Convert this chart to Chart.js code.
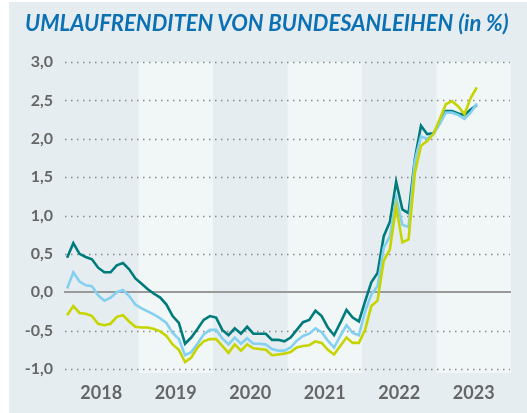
<!DOCTYPE html>
<html lang="de">
<head>
<meta charset="utf-8">
<script src="https://cdn.jsdelivr.net/npm/chart.js@4.4.1/dist/chart.umd.min.js"></script>
<style>
  html, body { margin: 0; background: #fff; }
  #wrap { position: absolute; left: 9px; top: 2px; width: 518px; height: 411px; background: #e5edf0; }
  #titel {
    position: absolute; left: 16px; top: 8px; margin: 0;
    font: italic bold 22px/26px Lato, sans-serif; color: #0b70b4; white-space: nowrap;
  }
</style>
</head>
<body>
<div id="wrap">
  <h1 id="titel">UMLAUFRENDITEN VON BUNDESANLEIHEN (in %)</h1>
  <canvas id="renditeChart"></canvas>
</div>
<script>
// Monatswerte Jan 2018 – Jul 2023, in %
const jahre = ['2018', '2019', '2020', '2021', '2022', '2023'];

const renditeLang = [
  0.45, 0.64, 0.50, 0.46, 0.43, 0.32, 0.26, 0.26, 0.35, 0.38, 0.30, 0.18,
  0.11, 0.04, -0.02, -0.07, -0.16, -0.31, -0.40, -0.67, -0.59, -0.48, -0.36, -0.31,
  -0.33, -0.49, -0.56, -0.47, -0.54, -0.45, -0.54, -0.54, -0.54, -0.62, -0.62, -0.64,
  -0.59, -0.49, -0.39, -0.36, -0.24, -0.31, -0.46, -0.56, -0.40, -0.23, -0.33, -0.38,
  -0.12, 0.13, 0.25, 0.73, 0.92, 1.44, 1.08, 1.03, 1.73, 2.17, 2.06, 2.07,
  2.20, 2.36, 2.36, 2.33, 2.31, 2.38, 2.44
];
const renditeMittel = [
  0.05, 0.26, 0.14, 0.09, 0.08, -0.04, -0.11, -0.07, 0.00, 0.03, -0.05, -0.16,
  -0.21, -0.25, -0.29, -0.34, -0.40, -0.53, -0.61, -0.82, -0.78, -0.67, -0.55, -0.49,
  -0.49, -0.60, -0.68, -0.59, -0.67, -0.60, -0.67, -0.67, -0.68, -0.74, -0.76, -0.76,
  -0.72, -0.63, -0.57, -0.54, -0.47, -0.52, -0.63, -0.72, -0.57, -0.43, -0.53, -0.56,
  -0.25, -0.03, 0.08, 0.58, 0.73, 1.23, 0.88, 0.85, 1.71, 2.03, 2.00, 2.06,
  2.19, 2.34, 2.34, 2.31, 2.26, 2.34, 2.46
];
const renditeKurz = [
  -0.30, -0.18, -0.27, -0.28, -0.31, -0.41, -0.43, -0.41, -0.32, -0.30, -0.38, -0.45,
  -0.46, -0.46, -0.48, -0.51, -0.57, -0.68, -0.75, -0.91, -0.85, -0.72, -0.64, -0.61,
  -0.61, -0.70, -0.79, -0.68, -0.76, -0.68, -0.73, -0.74, -0.75, -0.82, -0.81, -0.80,
  -0.78, -0.72, -0.70, -0.69, -0.64, -0.66, -0.75, -0.81, -0.70, -0.59, -0.66, -0.66,
  -0.49, -0.18, -0.11, 0.41, 0.56, 1.12, 0.65, 0.69, 1.55, 1.91, 1.97, 2.06,
  2.25, 2.45, 2.49, 2.42, 2.32, 2.53, 2.67
];
const yTicks = [-1.0, -0.5, 0.0, 0.5, 1.0, 1.5, 2.0, 2.5, 3.0];

// Monat i liegt in der Mitte seines Monatsintervalls
const punkte = werte => werte.map((v, i) => ({ x: i + 0.5, y: v }));

// helle Hintergrundstreifen für jedes zweite Jahr, dazu Gitterlinien
const jahresStreifen = {
  id: 'jahresStreifen',
  beforeDatasetsDraw(chart) {
    const { ctx, chartArea: a, scales: { x, y } } = chart;
    ctx.save();
    ctx.fillStyle = '#f1f6f7';
    jahre.forEach((j, i) => {
      if (i % 2 === 0) return;
      const x0 = x.getPixelForValue(i * 12);
      const x1 = x.getPixelForValue(i * 12 + 12);
      ctx.fillRect(x0, a.top, x1 - x0, a.bottom - a.top);
    });
    ctx.strokeStyle = '#8a8a8a';
    ctx.lineWidth = 1.5;
    ctx.setLineDash([1.5, 4.5]);
    yTicks.forEach(v => {
      if (v === 0) return;
      const py = Math.round(y.getPixelForValue(v)) + 0.5;
      ctx.beginPath();
      ctx.moveTo(a.left + 1, py);
      ctx.lineTo(a.right - 1, py);
      ctx.stroke();
    });
    ctx.setLineDash([]);
    ctx.strokeStyle = '#9a9a9a';
    ctx.lineWidth = 2;
    const p0 = Math.round(y.getPixelForValue(0));
    ctx.beginPath();
    ctx.moveTo(a.left, p0);
    ctx.lineTo(a.right, p0);
    ctx.stroke();
    ctx.restore();
  }
};

const linie = (daten, farbe) => ({
  data: punkte(daten),
  borderColor: farbe,
  borderWidth: 2.6,
  pointRadius: 0,
  tension: 0,
  fill: false
});

// Chart.js zeichnet Datensatz 0 zuletzt, gelb liegt also oben
new Chart(document.getElementById('renditeChart'), {
  type: 'line',
  data: {
    datasets: [
      linie(renditeKurz, '#c6d400'),
      linie(renditeMittel, '#84d0f0'),
      linie(renditeLang, '#007b7c')
    ]
  },
  options: {
    responsive: true,
    maintainAspectRatio: false,
    animation: false,
    layout: { padding: { left: 0, right: 16, top: 60, bottom: 0 } },
    plugins: {
      legend: { display: false },
      tooltip: { enabled: false },
      title: { display: false }
    },
    scales: {
      x: {
        type: 'linear',
        min: 0,
        max: 72,
        grid: { display: false, drawTicks: false },
        border: { display: false },
        afterBuildTicks: s => { s.ticks = jahre.map((j, i) => ({ value: i * 12 + 6 })); },
        afterFit: s => { s.height = 40; },
        ticks: {
          autoSkip: false,
          maxRotation: 0,
          padding: 9,
          color: '#666',
          font: { family: 'Lato', size: 18, weight: 'bold' },
          callback: (v, i) => jahre[i]
        }
      },
      y: {
        min: -1.052,
        max: 3.0,
        grid: { display: false, drawTicks: false },
        border: { display: false },
        afterBuildTicks: s => { s.ticks = yTicks.map(v => ({ value: v })); },
        afterFit: s => { s.width = 55; },
        ticks: {
          padding: 11,
          color: '#666',
          font: { family: 'Lato', size: 16, weight: 'bold' },
          callback: v => v.toFixed(1).replace('.', ',')
        }
      }
    }
  },
  plugins: [jahresStreifen]
});
</script>
</body>
</html>
